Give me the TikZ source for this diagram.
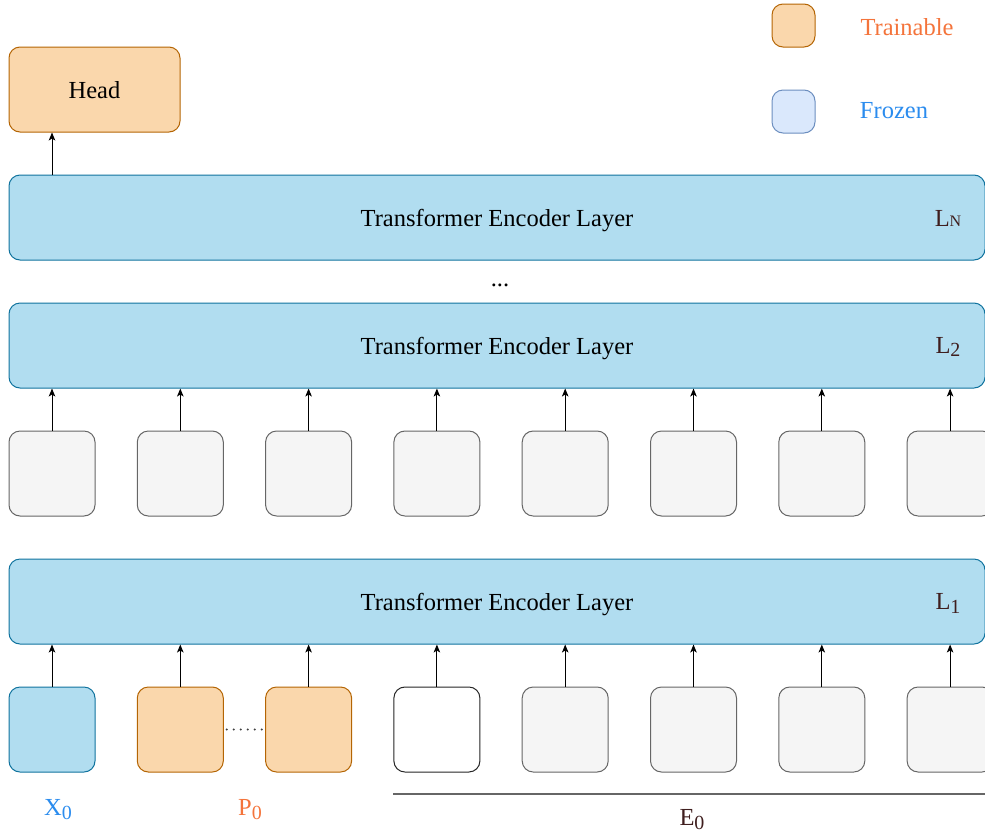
\documentclass[tikz,border=0pt]{standalone}
\usepackage{fontspec}
\setmainfont{Liberation Serif}
\usetikzlibrary{arrows.meta}
\definecolor{trainFill}{HTML}{FAD7AC}
\definecolor{trainLine}{HTML}{B46504}
\definecolor{layerFill}{HTML}{B1DDF0}
\definecolor{layerLine}{HTML}{10739E}
\definecolor{frozenFill}{HTML}{DAE8FC}
\definecolor{frozenLine}{HTML}{6C8EBF}
\definecolor{tokFill}{HTML}{F5F5F5}
\definecolor{tokLine}{HTML}{666666}
\definecolor{trainText}{HTML}{F4743B}
\definecolor{frozenText}{HTML}{2B8CEE}
\definecolor{maroon}{HTML}{3F1E1E}
\newcommand\subtxt[1]{\raisebox{-0.35ex}{\fontsize{20}{20}\selectfont #1}}
\begin{document}
\begin{tikzpicture}[x=1pt,y=-1pt,
  every node/.style={font=\fontsize{24.5}{28}\selectfont, inner sep=0pt},
  box/.style={draw, rounded corners=11pt, line width=1pt},
  layer/.style={box, fill=layerFill, draw=layerLine, minimum width=976pt, minimum height=85pt, text depth=0pt},
  token/.style={box, fill=tokFill, draw=tokLine, minimum width=86pt, minimum height=85pt},
  trainbox/.style={box, fill=trainFill, draw=trainLine},
  frozenbox/.style={box, fill=frozenFill, draw=frozenLine},
  lname/.style={text=maroon},
  up/.style={-{Stealth[length=8pt,width=6.5pt,inset=2pt]}, line width=1pt, black}
]
\useasboundingbox (0,0) rectangle (985,836);

% legend
\node[trainbox, minimum width=43pt, minimum height=43pt] (legT) at (793.5,25.5) {};
\node[text=trainText] (legTtxt) at (907,27) {Trainable};
\node[frozenbox, minimum width=43pt, minimum height=43pt] (legF) at (793.5,111.5) {};
\node[text=frozenText] (legFtxt) at (894,111) {Frozen};

% head
\node[trainbox, minimum width=171pt, minimum height=85pt, text depth=0pt] (head) at (94.5,89.5) {Head};

% encoder layers
\node[layer] (LN) at (497,217.5) {Transformer Encoder Layer};
\node[lname] at (948,218) {L\fontsize{16}{16}\selectfont N};
\node (dots) at (500,285) {...};
\node[layer] (L2) at (497,345.5) {Transformer Encoder Layer};
\node[lname] at (948,347) {L\subtxt{2}};
\node[layer] (L1) at (497,601.5) {Transformer Encoder Layer};
\node[lname] at (948,603) {L\subtxt{1}};

\draw[up] (52,175) coordinate (hs) -- (hs |- head.south);

% intermediate tokens
\foreach \i in {0,...,7} {
  \pgfmathsetmacro{\cx}{52+128.3*\i}
  \node[token] (m\i) at (\cx,473.5) {};
  \draw[up] (m\i.north) -- (m\i.north |- L2.south);
}

% input tokens
\node[box, fill=layerFill, draw=layerLine, minimum width=86pt, minimum height=85pt] (t0) at (52,729.5) {};
\node[trainbox, minimum width=86pt, minimum height=85pt] (t1) at (180.3,729.5) {};
\node[trainbox, minimum width=86pt, minimum height=85pt] (t2) at (308.6,729.5) {};
\node[box, fill=white, draw=black!85, minimum width=86pt, minimum height=85pt] (t3) at (436.9,729.5) {};
\foreach \i in {4,...,7} {
  \pgfmathsetmacro{\cx}{52+128.3*\i}
  \node[token] (t\i) at (\cx,729.5) {};
}
\foreach \i in {0,...,7} {
  \draw[up] (t\i.north) -- (t\i.north |- L1.south);
}
\draw[line width=2.2pt, black!75, line cap=round, dash pattern=on 0pt off 7pt] (t1.east) ++(3,0) -- (t2.west);

% group labels
\node[text=frozenText] (x0) at (58,810) {X\subtxt{0}};
\node[text=trainText] (p0) at (250,810) {P\subtxt{0}};
\coordinate (eL) at (393,794);
\coordinate (eR) at (986,794);
\draw[line width=1.5pt, tokLine] (eL) -- (eR);
\node[text=maroon] (e0) at (692,820) {E\subtxt{0}};
\end{tikzpicture}
\end{document}
